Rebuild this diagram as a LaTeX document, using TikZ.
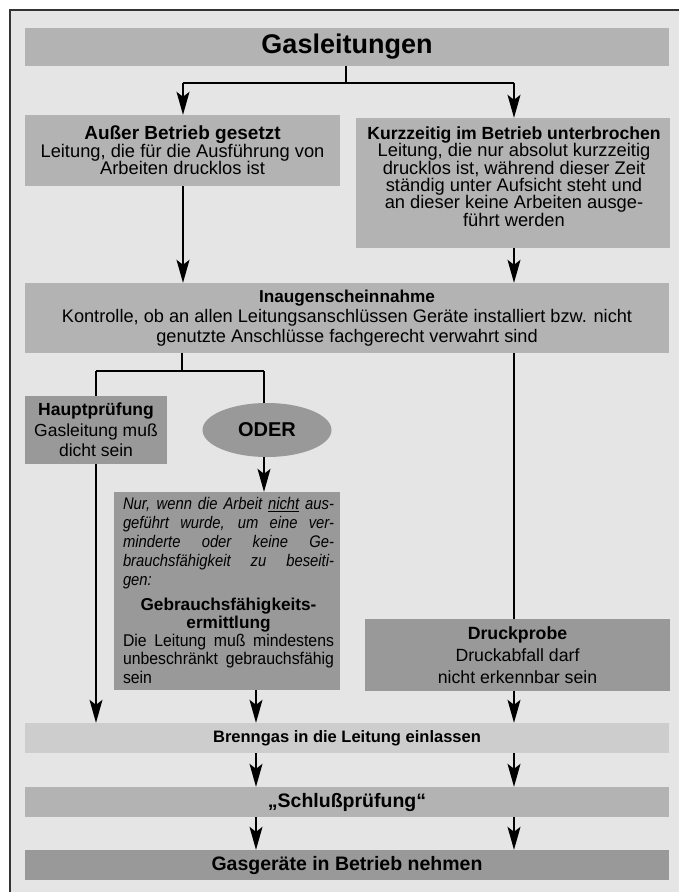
\documentclass[tikz,border=0pt]{standalone}
\usepackage{fontspec}
\setmainfont{Liberation Sans}
\newfontfamily\nurfont[FakeStretch=0.93]{Liberation Sans}
\newfontfamily\nuritfont[FakeStretch=0.88]{Liberation Sans}
\newcommand\jl[1]{\makebox[211pt][s]{\spaceskip=.2em plus 1fil\relax #1}}
\usetikzlibrary{arrows.meta,shapes.geometric}
\definecolor{bgc}{HTML}{E5E5E5}
\definecolor{midc}{HTML}{B3B3B3}
\definecolor{darkc}{HTML}{999999}
\definecolor{lightc}{HTML}{CDCDCD}
\definecolor{framec}{HTML}{333333}
\begin{document}
\begin{tikzpicture}[x=1pt,y=-1pt,
  box/.style={rectangle, inner sep=0pt, draw=none},
  mid/.style={box, fill=midc},
  drk/.style={box, fill=darkc},
  lgt/.style={box, fill=lightc},
  txt/.style={font=\fontsize{18.3}{17.4}\selectfont, align=center, text=black},
  conn/.style={line width=1.4pt, black},
  arr/.style={conn, -{Stealth[length=23pt,width=13pt,inset=5pt]}},
]
\useasboundingbox (0,0) rectangle (679,892);
\fill[white] (0,0) rectangle (679,892);
\fill[bgc] (9.5,9.5) rectangle (679,892);
\draw[framec, line width=2pt] (9.5,892) -- (9.5,9.5) -- (679,9.5);

% boxes
\node[mid, minimum width=644, minimum height=38, font=\fontsize{27}{30}\selectfont\bfseries] (title) at (347,47) {Gasleitungen};

\node[mid, minimum width=315, minimum height=71, txt] (aus) at (182.5,150.5)
  {{\fontsize{19}{17.4}\selectfont\bfseries Außer Betrieb gesetzt}\\Leitung, die für die Ausführung von\\Arbeiten drucklos ist};

\node[mid, minimum width=314, minimum height=130] (kurz) at (513,183) {};
\node[txt] (kurzT) at (514,176.5)
  {{\fontsize{17.6}{17.4}\selectfont\bfseries Kurzzeitig im Betrieb unterbrochen}\\Leitung, die nur absolut kurzzeitig\\drucklos ist, während dieser Zeit\\ständig unter Aufsicht steht und\\an dieser keine Arbeiten ausge-\\führt werden};

\node[mid, minimum width=644, minimum height=70, txt, font=\fontsize{18.2}{20}\selectfont] (inaug) at (347,318)
  {{\fontsize{17.2}{20}\selectfont\bfseries Inaugenscheinnahme}\\Kontrolle, ob an allen Leitungsanschlüssen Geräte installiert bzw. nicht\\genutzte Anschlüsse fachgerecht verwahrt sind};

\node[drk, minimum width=142, minimum height=68, txt, font=\fontsize{17.5}{20.5}\selectfont] (haupt) at (96,430)
  {\textbf{Hauptprüfung}\\Gasleitung muß\\dicht sein};

\node[ellipse, fill=darkc, minimum width=129, minimum height=54, inner sep=0pt, font=\fontsize{20}{24}\selectfont\bfseries] (oder) at (267,430) {ODER};

\node[drk, minimum width=226, minimum height=198] (nur) at (227,591) {};
\node[font=\nurfont\fontsize{17}{19}\selectfont, text width=211pt, align=left, inner sep=0pt] (nurT) at (228.5,590.5) {%
{\nuritfont\itshape\fontsize{16.8}{19}\selectfont
\jl{Nur, wenn die Arbeit \underline{nicht} aus-}\\
\jl{geführt wurde, um eine ver-}\\
\jl{minderte oder keine Ge-}\\
\jl{brauchsfähigkeit zu beseiti-}\\
gen:\par}
\vspace{6pt}
{\centering\rmfamily\bfseries\fontsize{17.2}{18.3}\selectfont Gebrauchsfähigkeits-\\ermittlung\par}
{\fontsize{17}{18.3}\selectfont
\jl{Die Leitung muß mindestens}\\
\jl{unbeschränkt gebrauchsfähig}\\
sein\par}};

\node[drk, minimum width=305, minimum height=72, txt, font=\fontsize{17.7}{22}\selectfont] (druck) at (517.5,655)
  {\textbf{Druckprobe}\\Druckabfall darf\\nicht erkennbar sein};

\node[lgt, minimum width=644, minimum height=30, font=\fontsize{16.5}{20}\selectfont\bfseries] (brenn) at (347,738) {Brenngas in die Leitung einlassen};
\node[mid, minimum width=644, minimum height=30, font=\fontsize{19.5}{22}\selectfont\bfseries] (schluss) at (347,802) {„Schlußprüfung“};
\node[drk, minimum width=644, minimum height=30, font=\fontsize{19.5}{22}\selectfont\bfseries] (geraete) at (347,865) {Gasgeräte in Betrieb nehmen};

% connectors
\coordinate (j1) at (346,83);
\coordinate (ja) at (183,83);
\coordinate (jk) at (514,83);
\draw[conn] (title.south -| j1) -- (j1);
\draw[conn] (ja) -- (jk);
\draw[arr] (ja) -- (ja |- aus.north);
\draw[arr] (jk) -- (jk |- kurz.north);
\draw[arr] (aus.south -| ja) -- (ja |- inaug.north);
\draw[arr] (kurz.south -| jk) -- (jk |- inaug.north);

\coordinate (j2) at (182,371);
\coordinate (jh) at (96,371);
\coordinate (jo) at (264,371);
\draw[conn] (inaug.south -| j2) -- (j2);
\draw[conn] (jh) -- (jo);
\draw[conn] (jh) -- (jh |- haupt.north);
\draw[conn] (jo) -- (jo |- oder.north);
\draw[arr] (haupt.south -| jh) -- (jh |- brenn.north);
\draw[arr] (oder.south -| jo) -- (jo |- nur.north);

\coordinate (cA) at (256,0);
\coordinate (cB) at (514,0);
\draw[arr] (nur.south -| cA) -- (cA |- brenn.north);
\draw[conn] (inaug.south -| cB) -- (cB |- druck.north);
\draw[arr] (druck.south -| cB) -- (cB |- brenn.north);
\draw[arr] (brenn.south -| cA) -- (cA |- schluss.north);
\draw[arr] (brenn.south -| cB) -- (cB |- schluss.north);
\draw[arr] (schluss.south -| cA) -- (cA |- geraete.north);
\draw[arr] (schluss.south -| cB) -- (cB |- geraete.north);
\end{tikzpicture}
\end{document}
